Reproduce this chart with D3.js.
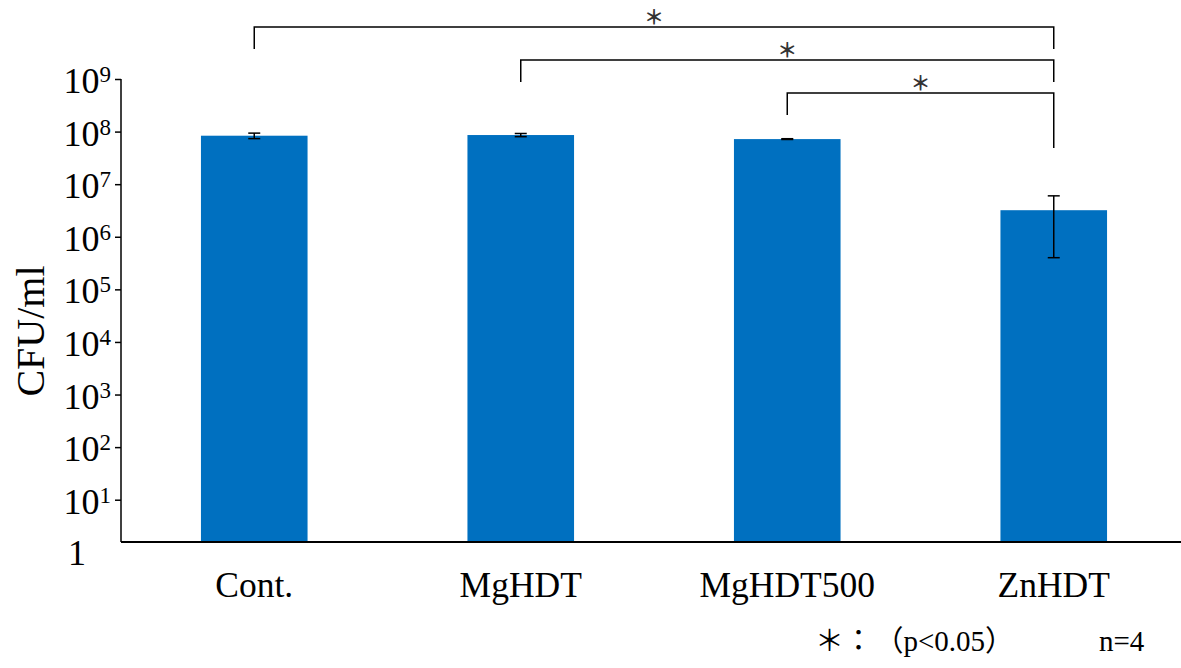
<!DOCTYPE html>
<html>
<head>
<meta charset="utf-8">
<script src="https://cdn.jsdelivr.net/npm/d3@7"></script>
<style>
  html, body { margin: 0; padding: 0; background: #fff; }
  svg { display: block; }
  text { font-family: "Liberation Serif", "Noto Sans CJK JP", serif; fill: #000; }
</style>
</head>
<body>
<svg id="chart" width="1181" height="668"></svg>
<script>
// Viable counts (CFU/ml), mean and SD per group
const categories = ["Cont.", "MgHDT", "MgHDT500", "ZnHDT"];
const means = [8.35e7, 8.6e7, 7.2e7, 3.2e6];
const sds = [1.0e7, 0.6e7, 0.12e7, 2.8e6];

// log axis ticks (10^1 .. 10^9) plus the "1" label at the origin
const tickExponents = [1, 2, 3, 4, 5, 6, 7, 8, 9];
const axisFloor = 1.57;   // value where the value axis is cut off

// significance brackets: [left group, right group, label]
const brackets = [
  ["Cont.", "ZnHDT", "＊"],
  ["MgHDT", "ZnHDT", "＊"],
  ["MgHDT500", "ZnHDT", "＊"]
];
const footnoteMark = "＊：";
const footnoteText = "（p<0.05）";
const sampleNote = "n=4";

const svg = d3.select("#chart");
const W = 1181;

const x = d3.scaleBand()
  .domain(categories)
  .range([121, 1187])
  .paddingInner(0.6)
  .paddingOuter(0.3);

const y = d3.scaleLog()
  .domain([1, 1e9])
  .range([552.3, 79]);

const baseY = y(axisFloor);
const axisX = 121;

// bars
svg.append("g").selectAll("rect")
  .data(categories)
  .join("rect")
  .attr("x", d => x(d))
  .attr("width", x.bandwidth())
  .attr("y", (d, i) => y(means[i]))
  .attr("height", (d, i) => baseY - y(means[i]))
  .attr("fill", "#0070C0");

// error bars
const capW = 12;
const eb = svg.append("g").attr("stroke", "#000").attr("stroke-width", 1.5);
categories.forEach((c, i) => {
  const cx = x(c) + x.bandwidth() / 2;
  const yt = y(means[i] + sds[i]);
  const yb = y(means[i] - sds[i]);
  eb.append("line").attr("x1", cx).attr("x2", cx).attr("y1", yt).attr("y2", yb);
  eb.append("line").attr("x1", cx - capW / 2).attr("x2", cx + capW / 2).attr("y1", yt).attr("y2", yt);
  eb.append("line").attr("x1", cx - capW / 2).attr("x2", cx + capW / 2).attr("y1", yb).attr("y2", yb);
});

// value axis with ticks
const yAxis = d3.axisLeft(y)
  .tickValues(tickExponents.map(e => Math.pow(10, e)))
  .tickSize(6)
  .tickSizeOuter(0)
  .tickFormat(() => "");
const ya = svg.append("g").attr("transform", `translate(${axisX},0)`).call(yAxis);
ya.select(".domain").remove();
ya.selectAll(".tick line").attr("stroke", "#000").attr("stroke-width", 1.5);
ya.selectAll(".tick").each(function(d) {
  const e = Math.round(Math.log10(d));
  const t = d3.select(this).append("text")
    .attr("x", -10)
    .attr("y", 13.5)
    .attr("text-anchor", "end")
    .style("font-size", "36px");
  t.append("tspan").text("10");
  t.append("tspan").attr("dy", -11).style("font-size", "23px").text(e);
});
// origin label
svg.append("text")
  .attr("x", 86)
  .attr("y", y(1) + 13)
  .attr("text-anchor", "end")
  .style("font-size", "36px")
  .text("1");

svg.append("line")
  .attr("x1", axisX).attr("x2", axisX)
  .attr("y1", y(1e9)).attr("y2", baseY)
  .attr("stroke", "#000").attr("stroke-width", 1.5);

// category axis
svg.append("line")
  .attr("x1", axisX).attr("x2", W)
  .attr("y1", baseY).attr("y2", baseY)
  .attr("stroke", "#000").attr("stroke-width", 1.8);

svg.append("g").selectAll("text")
  .data(categories)
  .join("text")
  .attr("x", d => x(d) + x.bandwidth() / 2)
  .attr("y", 597)
  .attr("text-anchor", "middle")
  .style("font-size", "35.5px")
  .text(d => d);

// axis title
svg.append("text")
  .attr("transform", "translate(44,331) rotate(-90)")
  .attr("text-anchor", "middle")
  .style("font-size", "40px")
  .text("CFU/ml");

// significance brackets
const bracketTop = 27, bracketStep = 33, legLen = 22;
const bg = svg.append("g");
brackets.forEach(([a, b, lab], i) => {
  const x1 = x(a) + x.bandwidth() / 2;
  const x2 = x(b) + x.bandwidth() / 2;
  const by = bracketTop + i * bracketStep;
  const rightLeg = i === brackets.length - 1 ? 55 : legLen;
  bg.append("path")
    .attr("d", `M${x1},${by + legLen}V${by}H${x2}V${by + rightLeg}`)
    .attr("fill", "none")
    .attr("stroke", "#000")
    .attr("stroke-width", 1.5);
  bg.append("text")
    .attr("x", (x1 + x2) / 2)
    .attr("y", by - 11)
    .attr("text-anchor", "middle")
    .attr("dominant-baseline", "central")
    .style("font-family", "'Noto Sans CJK JP', sans-serif")
    .style("font-size", "20px")
    .style("font-weight", "bold")
    .style("fill", "#333")
    .text(lab);
});

// footnotes
const fn = svg.append("text")
  .attr("x", 815)
  .attr("y", 651)
  .style("font-size", "29px");
fn.append("tspan").text(footnoteMark);
fn.append("tspan").attr("dx", 16).text(footnoteText);
svg.append("text")
  .attr("x", 1099)
  .attr("y", 651)
  .style("font-size", "29px")
  .text(sampleNote);
</script>
</body>
</html>
